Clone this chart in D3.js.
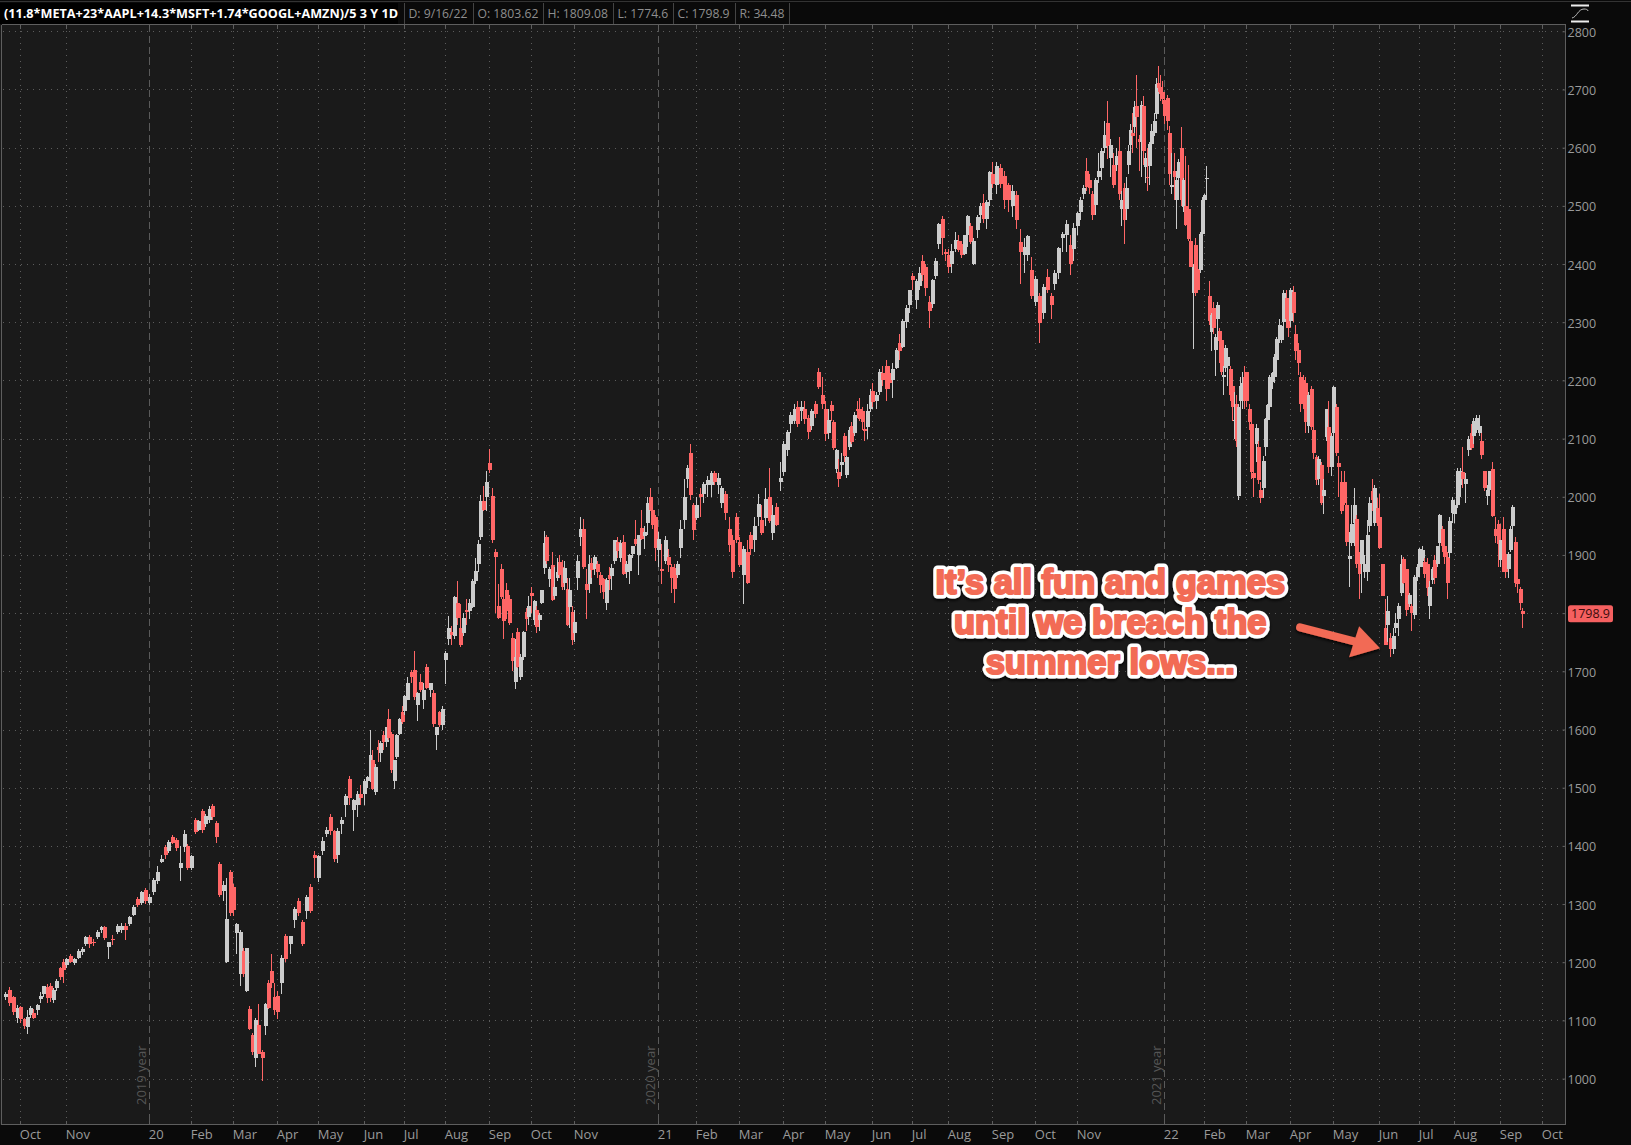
<!DOCTYPE html>
<html><head><meta charset="utf-8">
<script src="https://cdn.jsdelivr.net/npm/d3@7"></script>
<style>html,body{margin:0;padding:0;background:#1a1a1a;overflow:hidden}svg{display:block}text{font-family:"Open Sans",sans-serif}</style>
</head><body><div id="chart"></div>
<script>
// ---- axis data ----
const monthLabels  = ["Oct","Nov","20","Feb","Mar","Apr","May","Jun","Jul","Aug","Sep","Oct","Nov","21","Feb","Mar","Apr","May","Jun","Jul","Aug","Sep","Oct","Nov","22","Feb","Mar","Apr","May","Jun","Jul","Aug","Sep","Oct"];
const monthSessions= [0,23,64.5,85.5,106.5,128.5,149,172,192,212.5,234.5,255.5,277,319,338,359.5,381.5,402.5,426,446,464,486,507.5,528.5,572,592,613,635,656.5,679.5,699.5,717,740,761];
const firstSession = -7.6, lastSession = 752;
const yearMarks = [{label:"2019 year",session:64.5},{label:"2020 year",session:319},{label:"2021 year",session:572}];
const priceTicks = d3.range(1000,2801,100);
const titleText = "(11.8*META+23*AAPL+14.3*MSFT+1.74*GOOGL+AMZN)/5 3 Y 1D";
const statLabels = ["D: 9/16/22","O: 1803.62","H: 1809.08","L: 1774.6","C: 1798.9","R: 34.48"];
const lastClose = 1798.9;
const noteLines = ["It\u2019s all fun and games","until we breach the","summer lows..."];
const noteBaselines = [1833.6,1764.8,1696];

// ---- price data: [open, high, low, close], one segment between two month marks ----
const sep19=[[1140,1148,1135,1146],[1152,1157,1125,1130],[1140,1142,1110,1115],[1105,1127,1095,1122]];
const oct19=[[1123,1125,1095,1103],[1103,1105,1085,1090],[1088,1118,1077,1106],[1110,1125,1105,1122],[1112,1120,1103,1104],[1118,1128,1110,1126],[1137,1148,1130,1142],[1146,1160,1140,1159],[1158,1162,1130,1138],[1160,1165,1132,1138],[1135,1155,1130,1152],[1155,1172,1150,1168],[1190,1192,1170,1175],[1200,1205,1165,1187]];
const nov19=[[1195,1207,1190,1205],[1210,1215,1198,1200],[1198,1207,1195,1205],[1208,1222,1205,1220],[1218,1226,1212,1223],[1232,1245,1228,1243],[1243,1247,1225,1232],[1235,1240,1228,1233],[1243,1255,1240,1252],[1255,1262,1250,1260],[1260,1262,1238,1241]];
const dec19=[[1226,1235,1205,1234],[1240,1247,1230,1238],[1252,1265,1248,1263],[1255,1268,1250,1262],[1262,1268,1238,1255],[1265,1280,1262,1278],[1282,1298,1280,1295],[1308,1312,1295,1298],[1302,1322,1298,1320],[1325,1328,1300,1306]];
const jan20=[[1302,1318,1298,1312],[1320,1345,1315,1341],[1340,1365,1335,1355],[1372,1385,1370,1378],[1398,1402,1378,1384],[1392,1410,1388,1406],[1415,1418,1403,1405],[1410,1414,1392,1396],[1362,1400,1340,1370],[1398,1428,1390,1420],[1400,1403,1358,1362]];
const feb20=[[1362,1385,1358,1382],[1445,1448,1420,1424],[1428,1445,1425,1442],[1460,1463,1422,1427],[1438,1455,1432,1452],[1445,1468,1440,1463],[1468,1472,1445,1449],[1440,1442,1405,1415],[1368,1372,1312,1316],[1322,1340,1305,1333],[1200,1345,1198,1275],[1355,1358,1280,1285]];
const mar20=[[1330,1335,1280,1290],[1250,1268,1215,1265],[1180,1255,1160,1252],[1220,1224,1175,1180],[1150,1225,1148,1225],[1120,1125,1083,1085],[1075,1078,1040,1046],[1035,1105,1020,1100],[1092,1128,1042,1042],[1045,1050,996,1035],[1090,1130,1075,1128],[1165,1170,1120,1122],[1185,1215,1155,1165],[1140,1165,1110,1118]];
const apr20=[[1142,1150,1103,1115],[1165,1212,1145,1208],[1245,1248,1200,1205],[1232,1245,1215,1245],[1272,1295,1258,1292],[1305,1310,1280,1285],[1270,1272,1228,1232],[1288,1315,1275,1312],[1330,1335,1285,1288],[1385,1392,1345,1380]];
const may20=[[1345,1385,1338,1382],[1392,1415,1385,1408],[1420,1432,1415,1428],[1450,1455,1418,1425],[1425,1428,1372,1378],[1385,1430,1370,1425],[1438,1450,1420,1445],[1470,1490,1450,1485],[1515,1520,1470,1482],[1462,1480,1425,1478],[1470,1495,1450,1490],[1490,1505,1470,1482]];
const jun20=[[1490,1515,1470,1512],[1512,1520,1500,1518],[1515,1600,1510,1556],[1548,1565,1496,1498],[1492,1540,1488,1535],[1570,1582,1545,1564],[1560,1580,1545,1576],[1590,1598,1565,1578],[1578,1605,1570,1604],[1618,1635,1582,1585],[1593,1596,1525,1530],[1512,1547,1497,1547],[1553,1593,1550,1590],[1593,1620,1590,1618],[1630,1640,1610,1613]];
const jul20=[[1632,1660,1625,1658],[1650,1690,1650,1680],[1698,1702,1680,1690],[1703,1735,1650,1655],[1642,1665,1615,1662],[1682,1695,1665,1668],[1650,1680,1635,1668],[1708,1712,1670,1672],[1668,1680,1655,1680],[1662,1668,1605,1610],[1590,1605,1565,1604],[1630,1632,1605,1608],[1608,1640,1600,1636]];
const aug20=[[1720,1735,1678,1732],[1755,1795,1745,1775],[1768,1778,1745,1762],[1760,1830,1755,1828],[1818,1855,1780,1792],[1775,1815,1742,1745],[1765,1800,1760,1792],[1805,1825,1780,1802],[1803,1825,1790,1818],[1810,1858,1808,1855],[1855,1895,1850,1872],[1885,1925,1870,1918],[1930,2003,1925,1992],[1992,2018,1975,1978],[2000,2045,1975,2025]];
const sep20=[[2058,2082,2040,2046],[2002,2015,1920,1925],[1905,1910,1800,1897],[1812,1850,1790,1792],[1875,1885,1825,1828],[1825,1830,1755,1786],[1840,1852,1790,1803],[1825,1832,1780,1783],[1757,1765,1700,1717],[1682,1755,1670,1725],[1768,1775,1705,1708],[1690,1730,1685,1725],[1725,1770,1720,1768],[1802,1808,1770,1790],[1793,1830,1780,1812]];
const oct20=[[1835,1845,1800,1830],[1788,1822,1780,1820],[1805,1812,1765,1777],[1788,1800,1770,1797],[1818,1840,1815,1840],[1877,1942,1868,1920],[1930,1935,1885,1890],[1858,1880,1845,1875],[1882,1905,1820,1822],[1830,1880,1825,1845],[1860,1895,1855,1870],[1888,1900,1860,1865],[1880,1892,1840,1845],[1852,1890,1840,1878],[1842,1860,1778,1780],[1810,1860,1775,1840],[1802,1812,1745,1753]];
const nov20=[[1765,1805,1750,1785],[1860,1900,1840,1890],[1930,1965,1915,1945],[1945,1962,1875,1880],[1850,1875,1790,1840],[1850,1900,1835,1885],[1887,1895,1860,1874],[1875,1900,1865,1897],[1885,1890,1860,1870],[1865,1870,1835,1848],[1858,1860,1825,1837],[1818,1860,1805,1857],[1865,1880,1840,1858],[1863,1885,1840,1877]];
const dec20=[[1890,1925,1885,1925],[1922,1930,1895,1907],[1895,1925,1888,1920],[1922,1935,1865,1868],[1870,1890,1860,1885],[1872,1902,1850,1900],[1902,1915,1895,1915],[1928,1960,1915,1918],[1900,1935,1865,1935],[1947,1978,1925,1928],[1932,1950,1910,1940],[1955,2000,1935,1990],[2000,2015,1975,1977],[1977,1985,1945,1952],[1965,1968,1890,1912]];
const jan21=[[1908,1940,1880,1928],[1875,1918,1850,1874],[1890,1932,1885,1925],[1897,1910,1870,1882],[1880,1885,1835,1860],[1878,1885,1818,1842],[1865,1890,1860,1885],[1912,1960,1895,1945],[1960,2030,1945,2000],[2030,2055,2015,2050],[2075,2090,1995,2003],[1985,1990,1925,1943]];
const feb21=[[1963,2000,1960,1985],[2005,2015,1965,2000],[2005,2025,1990,2022],[2020,2035,2000,2028],[2020,2045,2000,2040],[2040,2045,2020,2025],[2020,2040,2005,2032],[1990,2018,1980,2015],[2005,2010,1960,1972],[1945,1965,1905,1917],[1925,1935,1860,1870],[1965,1972,1920,1925]];
const mar21=[[1922,1930,1880,1882],[1865,1915,1815,1910],[1905,1925,1850,1852],[1935,1940,1900,1910],[1925,1965,1905,1950],[1965,2005,1950,1988],[1960,1985,1935,1938],[1963,2015,1950,1997],[2000,2050,1955,1958],[1937,1985,1925,1968],[1982,1990,1950,1952],[2025,2060,2010,2032]];
const apr21=[[2042,2095,2035,2090],[2080,2115,2070,2112],[2125,2145,2110,2140],[2130,2160,2125,2150],[2155,2165,2120,2125],[2148,2165,2130,2155],[2150,2165,2125,2134],[2135,2140,2100,2112],[2122,2150,2115,2148],[2160,2165,2135,2143],[2215,2222,2185,2188],[2175,2205,2150,2160]];
const may21=[[2150,2165,2095,2108],[2110,2150,2100,2132],[2158,2165,2130,2147],[2128,2132,2080,2083],[2048,2082,2040,2080],[2042,2065,2016,2030],[2055,2075,2035,2060],[2105,2110,2060,2070],[2037,2070,2033,2068],[2085,2120,2080,2115],[2122,2128,2090,2094],[2110,2145,2105,2141],[2150,2165,2135,2147],[2150,2170,2130,2134],[2147,2155,2115,2128],[2117,2130,2095,2113],[2120,2160,2100,2148],[2150,2185,2145,2175]];
const jun21=[[2182,2195,2155,2163],[2165,2180,2150,2175],[2180,2220,2175,2215],[2212,2225,2190,2200],[2225,2235,2165,2185],[2212,2225,2185,2195],[2200,2230,2170,2220],[2222,2255,2220,2252],[2265,2280,2235,2250],[2258,2305,2255,2302],[2300,2330,2290,2325],[2330,2355,2315,2355]];
const jul21=[[2380,2385,2355,2372],[2338,2375,2322,2370],[2362,2395,2355,2385],[2405,2415,2370,2382],[2395,2400,2345,2358],[2335,2345,2290,2320],[2332,2375,2325,2372],[2380,2410,2375,2405],[2435,2470,2425,2468],[2478,2482,2415,2445],[2420,2425,2405,2417]];
const aug21=[[2415,2425,2385,2395],[2400,2435,2385,2422],[2425,2455,2420,2442],[2440,2450,2420,2424],[2435,2440,2410,2415],[2418,2450,2415,2450],[2450,2485,2430,2482],[2465,2470,2435,2438],[2400,2445,2398,2440],[2458,2485,2445,2480],[2485,2505,2470,2500],[2505,2520,2470,2477],[2478,2510,2460,2507],[2510,2560,2500,2558]];
const sep21=[[2555,2575,2530,2538],[2535,2575,2520,2568],[2565,2572,2530,2538],[2552,2560,2495,2510],[2535,2540,2490,2510],[2500,2535,2480,2525],[2518,2525,2460,2475],[2438,2460,2365,2420],[2415,2445,2385,2430],[2415,2450,2405,2448],[2390,2412,2340,2345]];
const oct21=[[2335,2380,2328,2375],[2345,2350,2265,2298],[2315,2365,2305,2360],[2378,2392,2350,2355],[2345,2350,2305,2330],[2365,2390,2355,2385],[2385,2430,2375,2428],[2445,2455,2420,2452],[2450,2475,2420,2468],[2432,2450,2382,2400],[2425,2470,2405,2462]];
const nov21=[[2465,2490,2450,2488],[2490,2515,2475,2510],[2520,2535,2512,2530],[2560,2582,2525,2533],[2545,2555,2520,2530],[2520,2525,2475,2485],[2502,2548,2485,2545],[2550,2590,2540,2560],[2565,2600,2545,2595],[2600,2645,2590,2622],[2642,2680,2580,2603],[2582,2615,2550,2605],[2570,2590,2530,2535],[2570,2600,2560,2585]];
const dec21=[[2595,2618,2510,2520],[2495,2525,2465,2510],[2530,2540,2434,2475],[2495,2550,2475,2530],[2570,2605,2555,2595],[2605,2640,2590,2630],[2625,2660,2590,2620],[2635,2680,2625,2670],[2672,2725,2600,2652],[2615,2622,2560,2610],[2610,2680,2550,2673],[2672,2688,2570,2595],[2567,2590,2540,2582],[2550,2600,2525,2548],[2568,2610,2535,2607],[2607,2640,2595,2628],[2625,2660,2620,2645],[2658,2720,2650,2710],[2712,2740,2695,2703],[2705,2725,2680,2692],[2695,2715,2675,2683]];
const jan22=[[2682,2695,2640,2655],[2685,2690,2630,2645],[2625,2638,2535,2555],[2533,2590,2520,2535],[2560,2590,2510,2550],[2510,2560,2460,2545],[2548,2580,2510,2575],[2600,2635,2500,2510],[2498,2548,2490,2545],[2500,2585,2465,2467],[2495,2570,2440,2443],[2440,2445,2395,2395],[2350,2400,2254,2395],[2432,2445,2345,2350],[2392,2398,2350,2355],[2390,2455,2385,2452],[2452,2515,2445,2510]];
const feb22=[[2510,2520,2505,2518],[2547,2568,2510,2548],[2345,2370,2295,2302],[2283,2315,2250,2312],[2325,2335,2280,2290],[2252,2280,2208,2275],[2305,2335,2270,2330],[2285,2290,2230,2268],[2270,2275,2210,2215],[2205,2225,2175,2210],[2222,2260,2215,2255],[2225,2245,2190,2240],[2220,2225,2165,2175],[2190,2190,2130,2155],[2130,2180,2100,2132],[2160,2175,2085,2095],[2002,2160,1995,2155],[2165,2205,2140,2190],[2175,2215,2150,2195],[2205,2225,2150,2165]];
const mar22=[[2215,2215,2155,2165],[2150,2160,2115,2128],[2125,2130,2030,2042],[2040,2045,2000,2032],[2090,2125,2060,2118],[2085,2095,2022,2028],[2012,2025,1990,1998],[2015,2070,1998,2062],[2085,2135,2070,2133],[2132,2160,2125,2157],[2155,2210,2140,2205],[2197,2215,2185,2212],[2205,2245,2195,2240],[2235,2275,2225,2271],[2270,2305,2265,2295],[2270,2295,2265,2293],[2300,2355,2290,2350],[2342,2355,2290,2305],[2330,2340,2275,2290]];
const apr22=[[2302,2358,2292,2355],[2352,2362,2300,2315],[2280,2295,2235,2250],[2253,2265,2210,2230],[2205,2215,2145,2160],[2200,2210,2150,2160],[2195,2205,2110,2128],[2122,2180,2110,2175],[2185,2190,2115,2120],[2115,2120,2065,2075],[2068,2072,2020,2028],[2030,2070,2020,2065],[2055,2060,1985,1990],[2002,2030,1970,2012],[2102,2150,2095,2150],[2120,2165,2040,2052],[2052,2110,2035,2105]];
const may22=[[2110,2190,2100,2188],[2155,2160,2070,2075],[2058,2070,2000,2052],[2025,2045,1970,1975],[2025,2045,1985,1990],[1985,1990,1915,1922],[1893,1940,1845,1898],[1920,1985,1915,1953],[1955,2015,1915,1985],[1962,1968,1878,1885],[1895,1905,1825,1867],[1885,1925,1835,1925],[1870,1900,1860,1885],[1870,1960,1855,1935],[1950,2000,1940,1990],[2010,2030,1975,1995],[1955,2020,1950,2015],[1980,1998,1950,1955]];
const jun22=[[1965,2005,1910,1912],[1885,1885,1830,1830],[1775,1825,1745,1745],[1780,1830,1750,1803],[1757,1765,1725,1738],[1738,1775,1730,1760],[1775,1800,1765,1783],[1790,1818,1760,1813],[1835,1900,1830,1885],[1893,1897,1850,1852],[1875,1875,1795,1805],[1815,1835,1810,1832],[1812,1815,1770,1800],[1797,1865,1790,1862],[1862,1885,1855,1880]];
const jul22=[[1880,1912,1875,1910],[1890,1915,1880,1908],[1888,1895,1860,1868],[1885,1895,1830,1843],[1812,1855,1790,1845],[1857,1880,1850,1875],[1892,1900,1850,1860],[1885,1915,1880,1915],[1920,1970,1915,1968],[1945,1950,1905,1915],[1915,1925,1885,1897],[1897,1905,1825,1852],[1903,1965,1895,1958],[1972,2000,1955,1995]];
const aug22=[[1970,1995,1955,1985],[1985,2050,1980,2045],[2020,2050,2000,2045],[2042,2085,2015,2030],[2022,2040,1990,2030],[2080,2105,2070,2100],[2110,2125,2080,2083],[2105,2135,2090,2130],[2115,2140,2110,2135],[2110,2140,2105,2122],[2095,2110,2065,2072],[2045,2045,2010,2015],[2002,2020,1985,2012],[2012,2045,2010,2045],[2048,2060,1965,1967],[1945,1965,1920,1932],[1953,1960,1880,1918]];
const sep22=[[1892,1925,1880,1925],[1945,1965,1870,1870],[1902,1905,1860,1870],[1875,1905,1860,1902],[1908,1950,1905,1945],[1950,1985,1945,1982],[1923,1930,1845,1852],[1858,1865,1835,1850],[1842,1845,1805,1817],[1803.62,1809.08,1774.6,1798.9]];

const segments=[
 {from:firstSession,to:0,bars:sep19},{from:0,to:23,bars:oct19},{from:23,to:44,bars:nov19},{from:44,to:64.5,bars:dec19},{from:64.5,to:85.5,bars:jan20},
 {from:85.5,to:106.5,bars:feb20},{from:106.5,to:128.5,bars:mar20},{from:128.5,to:149,bars:apr20},{from:149,to:172,bars:may20},
 {from:172,to:192,bars:jun20},{from:192,to:212.5,bars:jul20},{from:212.5,to:234.5,bars:aug20},{from:234.5,to:255.5,bars:sep20},
 {from:255.5,to:277,bars:oct20},{from:277,to:297,bars:nov20},{from:297,to:319,bars:dec20},{from:319,to:338,bars:jan21},{from:338,to:359.5,bars:feb21},
 {from:359.5,to:381.5,bars:mar21},{from:381.5,to:402.5,bars:apr21},{from:402.5,to:426,bars:may21},{from:426,to:446,bars:jun21},
 {from:446,to:464,bars:jul21},{from:464,to:486,bars:aug21},{from:486,to:507.5,bars:sep21},{from:507.5,to:528.5,bars:oct21},
 {from:528.5,to:549.5,bars:nov21},{from:549.5,to:572,bars:dec21},{from:572,to:592,bars:jan22},{from:592,to:613,bars:feb22},{from:613,to:635,bars:mar22},
 {from:635,to:656.5,bars:apr22},{from:656.5,to:679.5,bars:may22},{from:679.5,to:699.5,bars:jun22},{from:699.5,to:717,bars:jul22},
 {from:717,to:740,bars:aug22},{from:740,to:lastSession,bars:sep22}];

// ---- layout ----
const W=1631,H=1145, plotL=1.5, plotR=1565.5, plotT=24.5, plotB=1124.5;
const x=d3.scaleLinear().domain([0,761]).range([20.3,1542.3]);
const y=d3.scaleLinear().domain([2800,1000]).range([31.3,1078.6]);
const UP="#cccccc", DOWN="#ff6666", CORAL="#f26b55";

const svg=d3.select("#chart").append("svg").attr("width",W).attr("height",H);
svg.append("rect").attr("width",W).attr("height",H).attr("fill","#1a1a1a");

// grid
const grid=svg.append("g").attr("shape-rendering","crispEdges");
grid.selectAll(".h").data(priceTicks).join("line").attr("x1",plotL+1).attr("x2",plotR)
  .attr("y1",d=>Math.round(y(d))+.5).attr("y2",d=>Math.round(y(d))+.5)
  .attr("stroke","#5c5c5c").attr("stroke-dasharray","1 5");
const yearSessions=yearMarks.map(d=>d.session);
grid.selectAll(".v").data(monthSessions.filter(s=>!yearSessions.includes(s))).join("line")
  .attr("x1",d=>Math.round(x(d))+.5).attr("x2",d=>Math.round(x(d))+.5).attr("y1",plotT).attr("y2",plotB)
  .attr("stroke","#5c5c5c").attr("stroke-dasharray","1 5");
grid.selectAll(".yr").data(yearMarks).join("line")
  .attr("x1",d=>Math.round(x(d.session))+.5).attr("x2",d=>Math.round(x(d.session))+.5).attr("y1",plotT).attr("y2",plotB)
  .attr("stroke","#5a5a5a").attr("stroke-dasharray","7 4");

// year labels
svg.selectAll(".yl").data(yearMarks).join("text")
  .attr("transform",d=>`translate(${x(d.session)-3},1105) rotate(-90)`)
  .attr("font-size",13).attr("fill","#565656").text(d=>d.label);

// candles
const bars=segments.flatMap(s=>s.bars.map((b,i)=>({session:s.from+i*(s.to-s.from)/s.bars.length,open:b[0],high:b[1],low:b[2],close:b[3]})));
const bodyW=4;
const candle=svg.append("g").attr("shape-rendering","crispEdges").selectAll("g").data(bars).join("g");
const col=d=>d.close>=d.open?UP:DOWN;
candle.append("line").attr("x1",d=>Math.round(x(d.session))+.5).attr("x2",d=>Math.round(x(d.session))+.5)
  .attr("y1",d=>y(d.high)).attr("y2",d=>y(d.low)).attr("stroke",col);
candle.append("rect").attr("x",d=>Math.round(x(d.session))-1.5).attr("width",bodyW)
  .attr("y",d=>y(Math.max(d.open,d.close))).attr("height",d=>Math.max(1.5,Math.abs(y(d.open)-y(d.close)))).attr("fill",col);

// panels
svg.append("rect").attr("x",plotR).attr("y",0).attr("width",W-plotR).attr("height",H).attr("fill","#0a0a0a");
svg.append("rect").attr("x",0).attr("y",plotB).attr("width",W).attr("height",H-plotB).attr("fill","#0a0a0a");
svg.append("rect").attr("x",0).attr("y",0).attr("width",W).attr("height",plotT).attr("fill","#0a0a0a");
const frame=svg.append("g").attr("shape-rendering","crispEdges").attr("stroke","#5e5e5e").attr("fill","none");
frame.append("path").attr("d",`M${plotL},${plotT}V${plotB}H${plotR}V${plotT}H${plotL}`);
frame.append("path").attr("d",`M0,1.5H${W}`).attr("stroke","#333");

// x axis via d3.axis
const xAxis=d3.axisBottom(x).tickValues(monthSessions).tickSize(0).tickFormat((d,i)=>monthLabels[i]);
const gx=svg.append("g").attr("transform",`translate(-1,${plotB})`).call(xAxis);
gx.select(".domain").remove();
gx.selectAll("text").attr("text-anchor","start").attr("font-size",13).attr("font-family",'"Open Sans",sans-serif').attr("fill","#9a9a9a").attr("y",5).attr("dy","0.71em");
svg.append("g").attr("shape-rendering","crispEdges").selectAll("path").data(monthSessions).join("path")
  .attr("d",d=>{const p=Math.round(x(d))+.5;return `M${p},${plotT}v4M${p},${plotB}v-4`}).attr("stroke","#5e5e5e");

// y axis via d3.axis; the last-price tag takes the place of the label it covers
const labelHidden=d=>Math.abs(y(d)-y(lastClose))<14;
const yAxis=d3.axisRight(y).tickValues(priceTicks).tickSize(3).tickPadding(0).tickFormat(d=>labelHidden(d)?"":d3.format("d")(d));
const gy=svg.append("g").attr("transform",`translate(${plotR-3},0)`).call(yAxis);
gy.select(".domain").remove();
gy.selectAll("line").attr("stroke","#5e5e5e");
gy.selectAll("text").attr("x",5).attr("y",1).attr("font-size",12.5).attr("font-family",'"Open Sans",sans-serif').attr("fill","#9a9a9a");

// last price tag
const tag=svg.append("g").attr("transform",`translate(0,${y(lastClose)})`);
tag.append("rect").attr("x",1568).attr("y",-8.5).attr("width",45).attr("height",17).attr("rx",2.5).attr("fill","#f56060");
tag.append("text").attr("x",1590.5).attr("y",0).attr("dy","0.36em").attr("text-anchor","middle").attr("font-size",12.5).attr("fill","#3a0c0c").text(d3.format(".1f")(lastClose));

// header strip
const head=svg.append("g");
head.append("rect").attr("x",0).attr("y",3).attr("width",398).attr("height",21).attr("fill","#000");
head.append("text").attr("x",4).attr("y",18).attr("font-size",13).attr("font-weight",700).attr("fill","#fff")
  .attr("textLength",394).attr("lengthAdjust","spacingAndGlyphs").text(titleText);
let cx=404.5;
head.append("line").attr("x1",cx).attr("x2",cx).attr("y1",3).attr("y2",24).attr("stroke","#444");
statLabels.forEach(t=>{
  const tx=head.append("text").attr("x",cx+4).attr("y",18).attr("font-size",12.2).attr("fill","#8e8e8e").text(t);
  cx=Math.round(cx+tx.node().getComputedTextLength()+9)+.5;
  head.append("line").attr("x1",cx).attr("x2",cx).attr("y1",3).attr("y2",24).attr("stroke","#444");
});

// study icon, top right
const icon=svg.append("g").attr("fill","none").attr("stroke","#eeeeee");
icon.append("path").attr("d","M1571,5.5H1589M1571,21.5H1589").attr("stroke-width",2);
icon.append("path").attr("d","M1572,18C1577,17 1578,9 1584,9C1586,9 1588,9.5 1588,11").attr("stroke-width",1).attr("stroke","#bbb");

// annotation
const defs=svg.append("defs");
const shadow=defs.append("filter").attr("id","sh").attr("x","-20%").attr("y","-20%").attr("width","140%").attr("height","140%");
shadow.append("feDropShadow").attr("dx",0).attr("dy",2).attr("stdDeviation",1.6).attr("flood-color","#000").attr("flood-opacity",.85);
const noteData=noteLines.map((t,i)=>({t,price:noteBaselines[i]}));
const noteStyle='font-family:"Liberation Sans",Arial,sans-serif';
const noteG=svg.append("g").attr("filter","url(#sh)");
noteG.selectAll(".n").data(noteData).join("text")
  .attr("x",x(545)).attr("y",d=>y(d.price))
  .attr("text-anchor","middle").attr("font-size",34.5).attr("font-weight",700).attr("style",noteStyle)
  .attr("stroke","#ffffff").attr("stroke-width",9).attr("stroke-linejoin","round").attr("fill","#fff").text(d=>d.t);
const noteTop=svg.append("g");
noteTop.selectAll(".m").data(noteData).join("text")
  .attr("x",x(545)).attr("y",d=>y(d.price))
  .attr("text-anchor","middle").attr("font-size",34.5).attr("font-weight",700).attr("style",noteStyle)
  .attr("stroke",CORAL).attr("stroke-width",2.2).attr("stroke-linejoin","round").attr("fill",CORAL).text(d=>d.t);
const tipX=x(679.9), tipY=y(1739.5);
const arrow=svg.append("g").attr("filter","url(#sh)");
arrow.append("path").attr("d",`M${tipX-80},${tipY-21}L${tipX-22},${tipY-6}`).attr("stroke",CORAL).attr("stroke-width",8).attr("stroke-linecap","round");
arrow.append("path").attr("d",`M${tipX},${tipY}L${tipX-21},${tipY-22}L${tipX-31},${tipY+9}Z`).attr("fill",CORAL);
</script></body></html>
